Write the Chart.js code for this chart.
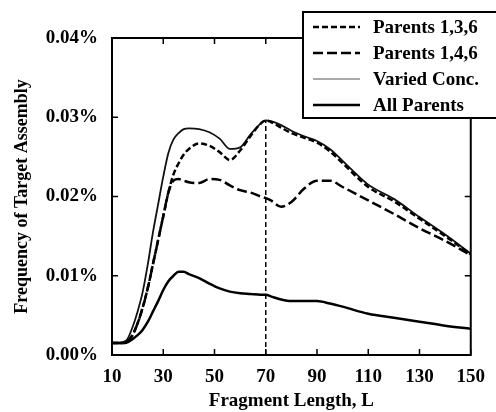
<!DOCTYPE html>
<html>
<head>
<meta charset="utf-8">
<script src="https://cdn.jsdelivr.net/npm/chart.js@4/dist/chart.umd.min.js"></script>
<style>
  html, body { margin: 0; padding: 0; background: #fff; }
</style>
</head>
<body>
<canvas id="myChart" width="496" height="412"></canvas>
<script>
// fragment length L
let lengths = [10,12,14,16,18,20,22,24,26,28,30,32,34,36,38,40,44,48,52,56,60,64,68,70,72,76,80,85,90,95,100,110,120,130,140,150]

// frequency of target assembly, in %
let parents136 = [0.0015,0.0015,0.0015,0.0017,0.0025,0.0040,0.0060,0.0085,0.0115,0.0145,0.0175,0.0205,0.0228,0.0242,0.0253,0.0260,0.0267,0.0264,0.0256,0.0246,0.0258,0.0276,0.0292,0.0296,0.0294,0.0287,0.0280,0.0274,0.0268,0.0257,0.0242,0.0212,0.0194,0.0172,0.0150,0.0127]
let parents146 = [0.0015,0.0015,0.0015,0.0017,0.0025,0.0040,0.0060,0.0085,0.0115,0.0145,0.0175,0.0205,0.0220,0.0222,0.0220,0.0218,0.0217,0.0222,0.0221,0.0214,0.0208,0.0205,0.0200,0.0198,0.0195,0.0187,0.0193,0.0210,0.0220,0.0220,0.0212,0.0195,0.0178,0.0160,0.0144,0.0126]
let variedConc = [0.0015,0.0015,0.0016,0.0020,0.0035,0.0055,0.0080,0.0115,0.0155,0.0190,0.0225,0.0255,0.0272,0.0280,0.0285,0.0286,0.0285,0.0281,0.0273,0.0260,0.0262,0.0278,0.0292,0.0296,0.0295,0.0290,0.0283,0.0276,0.0270,0.0260,0.0245,0.0215,0.0197,0.0174,0.0152,0.0128]
let allParents = [0.0015,0.0015,0.0015,0.0016,0.0020,0.0025,0.0032,0.0042,0.0055,0.0068,0.0082,0.0093,0.0100,0.0105,0.0105,0.0102,0.0097,0.0090,0.0084,0.0080,0.0078,0.0077,0.0076,0.0076,0.0074,0.0070,0.0068,0.0068,0.0068,0.0065,0.0061,0.0052,0.0047,0.0042,0.0037,0.0033]

// dashed marker at the peak
let markerX = [70, 70]
let markerY = [0, 0.0296]

let xTicks = [10,30,50,70,90,110,130,150]
let yTicks = [0,0.01,0.02,0.03,0.04]

let seriesNames = ["Parents 1,3,6","Parents 1,4,6","Varied Conc.","All Parents"]

const font = "Liberation Serif, Times New Roman, serif"

function pts(ys) {
  return lengths.map((l, i) => ({x: l, y: ys[i]}))
}

const styles = [
  {borderColor: "#000", borderWidth: 2.5, borderDash: [6, 3]},
  {borderColor: "#000", borderWidth: 2.5, borderDash: [10, 4]},
  {borderColor: "#111", borderWidth: 1.8, borderDash: []},
  {borderColor: "#000", borderWidth: 2.5, borderDash: []}
]

const allSeries = [parents136, parents146, variedConc, allParents]

let datasets = allSeries.map((s, i) => ({
  label: seriesNames[i],
  data: pts(s),
  borderColor: styles[i].borderColor,
  borderWidth: styles[i].borderWidth,
  borderDash: styles[i].borderDash,
  pointRadius: 0,
  fill: false,
  cubicInterpolationMode: "monotone"
}))

datasets.push({
  label: "marker",
  data: markerX.map((x, i) => ({x: x, y: markerY[i]})),
  borderColor: "#000",
  borderWidth: 1.5,
  borderDash: [5, 3],
  pointRadius: 0,
  fill: false
})

// frame, inward ticks and the boxed legend
const framePlugin = {
  id: "frame",
  afterDraw(chart) {
    const ctx = chart.ctx
    const a = chart.chartArea
    const xs = chart.scales.x
    const ys = chart.scales.y
    ctx.save()
    ctx.strokeStyle = "#000"
    ctx.lineWidth = 2
    ctx.setLineDash([])
    ctx.strokeRect(a.left, a.top, a.right - a.left, a.bottom - a.top)
    ctx.lineWidth = 1.5
    ctx.beginPath()
    xTicks.forEach(t => {
      const px = xs.getPixelForValue(t)
      ctx.moveTo(px, a.bottom); ctx.lineTo(px, a.bottom - 6)
      ctx.moveTo(px, a.top); ctx.lineTo(px, a.top + 6)
    })
    yTicks.forEach(t => {
      const py = ys.getPixelForValue(t)
      ctx.moveTo(a.left, py); ctx.lineTo(a.left + 6, py)
      ctx.moveTo(a.right, py); ctx.lineTo(a.right - 6, py)
    })
    ctx.stroke()

    // legend box
    const bx = 303, by = 12, bw = 200, bh = 106
    ctx.fillStyle = "#fff"
    ctx.fillRect(bx, by, bw, bh)
    ctx.lineWidth = 2
    ctx.strokeRect(bx, by, bw, bh)
    const rows = [27, 53, 79, 105]
    ctx.font = "bold 19px " + font
    ctx.textBaseline = "middle"
    ctx.textAlign = "left"
    rows.forEach((ry, i) => {
      ctx.beginPath()
      ctx.strokeStyle = i == 2 ? "#555" : "#000"
      ctx.lineWidth = i == 2 ? 1.2 : 2.5
      ctx.setLineDash(styles[i].borderDash)
      ctx.moveTo(313, ry); ctx.lineTo(360, ry)
      ctx.stroke()
      ctx.setLineDash([])
      ctx.fillStyle = "#000"
      ctx.fillText(seriesNames[i], 373, ry + 1)
    })
    ctx.restore()
  }
}

new Chart(document.getElementById("myChart"), {
  type: "line",
  data: {datasets: datasets},
  options: {
    responsive: false,
    animation: false,
    layout: {padding: {top: 38, right: 24, left: 0, bottom: 0}},
    plugins: {legend: {display: false}, tooltip: {enabled: false}},
    scales: {
      x: {
        type: "linear",
        min: 10, max: 150,
        grid: {display: false, drawTicks: false},
        border: {display: false},
        afterFit(scale) { scale.height = 57 },
        ticks: {
          stepSize: 20,
          padding: 11,
          color: "#000",
          maxRotation: 0,
          font: {family: font, size: 19, weight: "bold"}
        },
        title: {
          display: true,
          text: "Fragment Length, L",
          color: "#000",
          padding: {top: 0, bottom: 0},
          font: {family: font, size: 19, weight: "bold"}
        }
      },
      y: {
        min: 0, max: 0.04,
        grid: {display: false, drawTicks: false},
        border: {display: false},
        afterFit(scale) { scale.width = 112 },
        ticks: {
          stepSize: 0.01,
          padding: 14,
          color: "#000",
          font: {family: font, size: 19, weight: "bold"},
          callback: v => v.toFixed(2) + "%"
        },
        title: {
          display: true,
          text: "Frequency of Target Assembly",
          color: "#000",
          padding: {top: 12, bottom: 0},
          font: {family: font, size: 18, weight: "bold"}
        }
      }
    }
  },
  plugins: [framePlugin]
})
</script>
</body>
</html>
